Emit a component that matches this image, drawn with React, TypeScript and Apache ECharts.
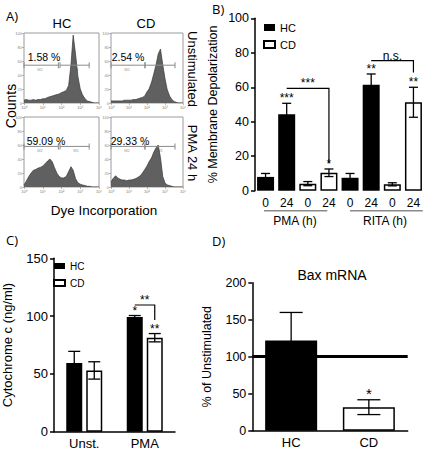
import React, { useEffect, useRef } from "react";
import * as echarts from "echarts";

// ---------- Panel A: flow cytometry histograms ----------
const histChannels = [1, 1.3, 1.8, 2.4, 3.2, 4.2, 5.6, 7.5, 10, 13, 18, 24, 32, 42, 56, 75, 100, 130, 180, 240, 320, 420, 560, 750, 1000, 1300, 1800, 2400, 3200, 4200, 5600, 7500, 10000];
const hcUnstimCounts = [4, 5, 4, 4, 5, 4, 5, 5, 6, 6, 8, 9, 10, 11, 12, 13, 15, 16, 18, 25, 55, 97, 70, 38, 20, 12, 6, 3, 2, 1, 0, 0, 0];
const cdUnstimCounts = [3, 3, 3, 3, 3, 3, 4, 4, 4, 4, 5, 5, 6, 7, 8, 10, 16, 20, 30, 42, 55, 70, 77, 55, 35, 20, 10, 5, 2, 1, 0, 0, 0];
const hcPmaCounts = [3, 8, 15, 20, 24, 25, 27, 28, 30, 33, 37, 40, 36, 28, 20, 15, 13, 13, 15, 22, 29, 24, 12, 6, 4, 3, 2, 1, 1, 0, 0, 0, 0];
const cdPmaCounts = [7, 12, 16, 13, 11, 10, 10, 9, 10, 10, 11, 12, 14, 16, 20, 25, 30, 36, 42, 50, 56, 60, 42, 15, 6, 3, 2, 1, 0, 0, 0, 0, 0];
const histCounts = [hcUnstimCounts, cdUnstimCounts, hcPmaCounts, cdPmaCounts];
const histPercents = ["1.58 %", "2.54 %", "59.09 %", "29.33 %"];
const histLogLabels = ["10⁰", "10¹", "10²", "10³", "10⁴"];
const gateLevels = [54, 54, 58, 58];
const gateM2 = [[1, 68], [1, 77], [1, 68], [1, 77]];
const gateM1 = [[83, 3000], [77, 3600], [83, 3000], [77, 3600]];
const histColumns = ["HC", "CD"];
const histRows = ["Unstimulated", "PMA 24 h"];

// ---------- Panel B: membrane depolarization ----------
const depolCategories = ["0", "24", "0", "24", "0", "24", "0", "24"];
const depolGroups = ["HC", "HC", "CD", "CD", "HC", "HC", "CD", "CD"];
const depolValues = [8, 44.3, 4.1, 10.4, 7.5, 61.5, 3.7, 51.3];
const depolErrors = [2, 6.4, 1.2, 2.2, 2.5, 6.2, 0.9, 8.7];
const depolStars = ["", "***", "", "*", "", "**", "", "**"];
const depolTreatments = ["PMA (h)", "RITA (h)"];
const depolBracketFrom = [1, 5];
const depolBracketTo = [3, 7];
const depolBracketLevel = [59.4, 75.4];
const depolBracketDrop = [15.9, 68.5];
const depolBracketLabels = ["***", "n.s."];

// ---------- Panel C: cytochrome c ----------
const cytoCategories = ["Unst.", "PMA"];
const cytoHC = [59.5, 99.3];
const cytoHCErr = [10, 1.2];
const cytoCD = [53, 81.3];
const cytoCDErr = [7.5, 3.6];
const cytoHCStars = ["", "*"];
const cytoCDStars = ["", "**"];
const cytoBracket = [1, 109.6, 96.6];
const cytoBracketLabel = "**";

// ---------- Panel D: Bax mRNA ----------
const baxCategories = ["HC", "CD"];
const baxValues = [121.8, 31.8];
const baxErrors = [38, 10];
const baxStars = ["", "*"];
const baxReference = 100;

const FONT = "Liberation Sans";

function txt(text: string, x: number, y: number, size: number, opts: any = {}) {
  return {
    type: "text",
    x,
    y,
    rotation: opts.rotation || 0,
    silent: true,
    style: {
      text,
      fontSize: size,
      fontFamily: opts.font || FONT,
      fill: opts.fill || "#000",
      align: opts.align || "center",
      verticalAlign: opts.valign || "middle",
      textAlign: opts.align || "center",
      textVerticalAlign: opts.valign || "middle",
    },
  };
}

function errorBars(axis: number, values: number[], errors: number[], offset: number, capHalf: number, stars: string[], starSize: number) {
  return {
    type: "custom",
    xAxisIndex: axis,
    yAxisIndex: axis,
    z: 5,
    silent: true,
    data: values.map((v, i) => [i, v, errors[i]]),
    renderItem: (params: any, api: any) => {
      const i = api.value(0);
      const v = api.value(1);
      const e = api.value(2);
      const hi = api.coord([i, v + e]);
      const lo = api.coord([i, v - e]);
      const x = hi[0] + offset;
      const st = { stroke: "#000", lineWidth: 1.3 };
      const children: any[] = [
        { type: "line", shape: { x1: x, y1: hi[1], x2: x, y2: lo[1] }, style: st },
        { type: "line", shape: { x1: x - capHalf, y1: hi[1], x2: x + capHalf, y2: hi[1] }, style: st },
        { type: "line", shape: { x1: x - capHalf, y1: lo[1], x2: x + capHalf, y2: lo[1] }, style: st },
      ];
      const s = stars[params.dataIndex];
      if (s) {
        children.push({
          type: "text",
          x,
          y: hi[1] + 1,
          style: { text: s, fontSize: starSize, fontFamily: FONT, fill: "#000", align: "center", verticalAlign: "bottom" },
        });
      }
      return { type: "group", children };
    },
  };
}

export default function App() {
  const ref = useRef<HTMLDivElement>(null);

  useEffect(() => {
    document.body.style.margin = "0";
    const chart = echarts.init(ref.current!, null, { renderer: "svg" });

    const histBoxes = [
      { left: 24, top: 33, width: 75, height: 70 },
      { left: 111, top: 33, width: 72, height: 70 },
      { left: 24, top: 117, width: 75, height: 70 },
      { left: 111, top: 117, width: 72, height: 70 },
    ];

    const grids: any[] = histBoxes.map((b) => ({ ...b, show: true, borderColor: "#9a9a9a", borderWidth: 1, backgroundColor: "#fff" }));
    grids.push({ left: 255, top: 18.3, width: 169, height: 172.4 });
    grids.push({ left: 46.7, top: 258.3, width: 128.3, height: 173.4 });
    grids.push({ left: 252.3, top: 282.7, width: 155.4, height: 148 });

    const xAxes: any[] = histBoxes.map((_, i) => ({
      type: "log",
      logBase: 10,
      min: 1,
      max: 10000,
      gridIndex: i,
      axisLine: { show: false },
      axisTick: { show: true, length: 2, lineStyle: { color: "#888", width: 0.6 } },
      splitLine: { show: false },
      axisLabel: {
        fontSize: 4,
        color: "#777",
        margin: 2,
        formatter: (v: number) => histLogLabels[Math.round(Math.log10(v))],
      },
    }));
    xAxes.push({
      type: "category",
      gridIndex: 4,
      data: depolCategories,
      axisLine: { show: false },
      axisTick: { show: false },
      axisLabel: { fontSize: 12, color: "#000", margin: 6 },
    });
    xAxes.push({
      type: "category",
      gridIndex: 5,
      data: cytoCategories,
      axisLine: { show: true, lineStyle: { color: "#000", width: 1.5 } },
      axisTick: { show: false },
      axisLabel: { fontSize: 13, color: "#000", margin: 5 },
    });
    xAxes.push({
      type: "category",
      gridIndex: 6,
      data: baxCategories,
      axisLine: { show: true, lineStyle: { color: "#000", width: 1.5 } },
      axisTick: { show: false },
      axisLabel: { fontSize: 13, color: "#000", margin: 5 },
    });

    const yAxes: any[] = histBoxes.map((_, i) => ({
      type: "value",
      min: 0,
      max: 100,
      interval: 20,
      gridIndex: i,
      axisLine: { show: false },
      axisTick: { show: true, length: 2, lineStyle: { color: "#888", width: 0.6 } },
      splitLine: { show: false },
      axisLabel: { fontSize: 4, color: "#888", margin: 2 },
    }));
    const valueAxis = (grid: number, max: number, interval: number, name: string, size: number, gap: number) => ({
      type: "value",
      gridIndex: grid,
      min: 0,
      max,
      interval,
      name,
      nameLocation: "middle",
      nameGap: gap,
      nameTextStyle: { fontSize: size, color: "#000", fontFamily: FONT },
      axisLine: { show: true, lineStyle: { color: "#000", width: 1.5 } },
      axisTick: { show: true, length: 4, lineStyle: { color: "#000", width: 1.5 } },
      splitLine: { show: false },
      axisLabel: { fontSize: size, color: "#000", margin: 6 },
    });
    yAxes.push(valueAxis(4, 100, 20, "% Membrane Depolarization", 12.5, 36));
    yAxes.push(valueAxis(5, 150, 50, "Cytochrome c (ng/ml)", 13, 40));
    yAxes.push(valueAxis(6, 200, 50, "% of Unstimulated", 12.5, 39));

    const series: any[] = [];
    histCounts.forEach((counts, i) => {
      series.push({
        type: "line",
        xAxisIndex: i,
        yAxisIndex: i,
        showSymbol: false,
        silent: true,
        data: histChannels.map((c, j) => [c, counts[j]]),
        lineStyle: { color: "#3a3a3a", width: 0.7 },
        areaStyle: { color: "#606060", opacity: 1 },
      });
      [gateM2[i], gateM1[i]].forEach((g) => {
        series.push({
          type: "line",
          xAxisIndex: i,
          yAxisIndex: i,
          silent: true,
          symbol: "rect",
          symbolSize: [1, 6],
          showSymbol: true,
          data: [[g[0], gateLevels[i]], [g[1], gateLevels[i]]],
          lineStyle: { color: "#8a8a8a", width: 1 },
          itemStyle: { color: "#8a8a8a" },
          z: 4,
        });
      });
    });

    // Panel B bars
    series.push({
      name: "HC",
      type: "bar",
      xAxisIndex: 4,
      yAxisIndex: 4,
      barWidth: 17,
      barGap: "-100%",
      data: depolValues.map((v, i) => (depolGroups[i] === "HC" ? v : null)),
      itemStyle: { color: "#000" },
    });
    series.push({
      name: "CD",
      type: "bar",
      xAxisIndex: 4,
      yAxisIndex: 4,
      barWidth: 17,
      barGap: "-100%",
      data: depolValues.map((v, i) => (depolGroups[i] === "CD" ? v : null)),
      itemStyle: { color: "#fff", borderColor: "#000", borderWidth: 1.5 },
    });
    series.push(errorBars(4, depolValues, depolErrors, 0, 4.5, depolStars, 12));
    series.push({
      type: "custom",
      xAxisIndex: 4,
      yAxisIndex: 4,
      silent: true,
      z: 6,
      data: depolBracketFrom.map((f, i) => [f, depolBracketLevel[i], depolBracketTo[i], depolBracketDrop[i]]),
      renderItem: (params: any, api: any) => {
        const a = api.coord([api.value(0), api.value(1)]);
        const b = api.coord([api.value(2), api.value(1)]);
        const d = api.coord([api.value(2), api.value(3)]);
        return {
          type: "group",
          children: [
            { type: "polyline", shape: { points: [a, b, d] }, style: { stroke: "#000", lineWidth: 1.2, fill: null } },
            {
              type: "text",
              x: (a[0] + b[0]) / 2,
              y: a[1] + 1,
              style: { text: depolBracketLabels[params.dataIndex], fontSize: 12, fontFamily: FONT, fill: "#000", align: "center", verticalAlign: "bottom" },
            },
          ],
        };
      },
    });

    // Panel C bars
    series.push({
      name: "HC",
      type: "bar",
      xAxisIndex: 5,
      yAxisIndex: 5,
      barWidth: 16,
      barGap: "25%",
      data: cytoHC,
      itemStyle: { color: "#000" },
    });
    series.push({
      name: "CD",
      type: "bar",
      xAxisIndex: 5,
      yAxisIndex: 5,
      barWidth: 16,
      barGap: "25%",
      data: cytoCD,
      itemStyle: { color: "#fff", borderColor: "#000", borderWidth: 1.5 },
    });
    series.push(errorBars(5, cytoHC, cytoHCErr, -10, 6, cytoHCStars, 12));
    series.push(errorBars(5, cytoCD, cytoCDErr, 10, 6, cytoCDStars, 12));
    series.push({
      type: "custom",
      xAxisIndex: 5,
      yAxisIndex: 5,
      silent: true,
      z: 6,
      data: [cytoBracket],
      renderItem: (params: any, api: any) => {
        const a = api.coord([api.value(0), api.value(1)]);
        const d = api.coord([api.value(0), api.value(2)]);
        const p1 = [a[0] - 10, a[1]];
        const p2 = [a[0] + 10, a[1]];
        const p3 = [d[0] + 10, d[1]];
        return {
          type: "group",
          children: [
            { type: "polyline", shape: { points: [p1, p2, p3] }, style: { stroke: "#000", lineWidth: 1.2, fill: null } },
            {
              type: "text",
              x: a[0],
              y: a[1] + 1,
              style: { text: cytoBracketLabel, fontSize: 12, fontFamily: FONT, fill: "#000", align: "center", verticalAlign: "bottom" },
            },
          ],
        };
      },
    });

    // Panel D bars
    series.push({
      name: "Bax mRNA",
      type: "bar",
      xAxisIndex: 6,
      yAxisIndex: 6,
      barWidth: 52,
      data: baxValues.map((v, i) => ({
        value: v,
        itemStyle: i === 0 ? { color: "#000" } : { color: "#fff", borderColor: "#000", borderWidth: 1.5 },
      })),
      markLine: {
        silent: true,
        symbol: "none",
        label: { show: false },
        lineStyle: { color: "#000", width: 3, type: "solid" },
        data: [{ yAxis: baxReference }],
      },
    });
    series.push(errorBars(6, baxValues, baxErrors, 0, 11.5, baxStars, 15));

    const graphics: any[] = [
      txt("A)", 6, 16, 13, { align: "left", font: "Open Sans" }),
      txt("B)", 212, 9, 13, { align: "left", font: "Open Sans" }),
      txt("C)", 6, 240, 13, { align: "left", font: "Open Sans" }),
      txt("D)", 212, 241, 13, { align: "left", font: "Open Sans" }),
      txt(histColumns[0], 62, 23, 13),
      txt(histColumns[1], 146, 23, 13),
      txt(histRows[0], 192, 69, 13, { rotation: -Math.PI / 2 }),
      txt(histRows[1], 192, 153, 13, { rotation: -Math.PI / 2 }),
      txt("Counts", 11, 106, 14, { rotation: Math.PI / 2 }),
      txt("Dye Incorporation", 104, 210, 13.5),
      txt(histPercents[0], 44, 57, 10.5),
      txt(histPercents[1], 128, 57, 10.5),
      txt(histPercents[2], 46, 141, 10.5),
      txt(histPercents[3], 130, 141, 10.5),
      txt("M2", 40, 69, 4, { fill: "#999" }),
      txt("M1", 76, 69, 4, { fill: "#999" }),
      txt("M2", 127, 69, 4, { fill: "#999" }),
      txt("M1", 160, 69, 4, { fill: "#999" }),
      txt("M2", 40, 150, 4, { fill: "#999" }),
      txt("M1", 76, 150, 4, { fill: "#999" }),
      txt("M2", 127, 150, 4, { fill: "#999" }),
      txt("M1", 160, 150, 4, { fill: "#999" }),
      { type: "line", silent: true, shape: { x1: 264, y1: 210.7, x2: 327.3, y2: 210.7 }, style: { stroke: "#8a8a8a", lineWidth: 1.5 } },
      { type: "line", silent: true, shape: { x1: 350, y1: 210.7, x2: 422.7, y2: 210.7 }, style: { stroke: "#8a8a8a", lineWidth: 1.5 } },
      txt(depolTreatments[0], 295, 221, 12),
      txt(depolTreatments[1], 385, 221, 12),
      txt("Bax mRNA", 332, 275, 14),
    ];

    chart.setOption({
      animation: false,
      backgroundColor: "#fff",
      textStyle: { fontFamily: FONT },
      grid: grids,
      xAxis: xAxes,
      yAxis: yAxes,
      legend: [
        {
          data: ["HC", "CD"],
          orient: "vertical",
          left: 258,
          top: 17,
          icon: "rect",
          itemWidth: 11,
          itemHeight: 7,
          itemGap: 6,
          selectedMode: false,
          textStyle: { fontSize: 11, color: "#000", fontFamily: FONT },
        },
        {
          data: ["HC", "CD"],
          orient: "vertical",
          left: 48,
          top: 256,
          icon: "rect",
          itemWidth: 11,
          itemHeight: 6,
          itemGap: 7,
          selectedMode: false,
          textStyle: { fontSize: 10, color: "#000", fontFamily: FONT },
        },
      ],
      series,
      graphic: graphics,
    });

    return () => chart.dispose();
  }, []);

  return <div ref={ref} style={{ width: 429, height: 451 }} />;
}
